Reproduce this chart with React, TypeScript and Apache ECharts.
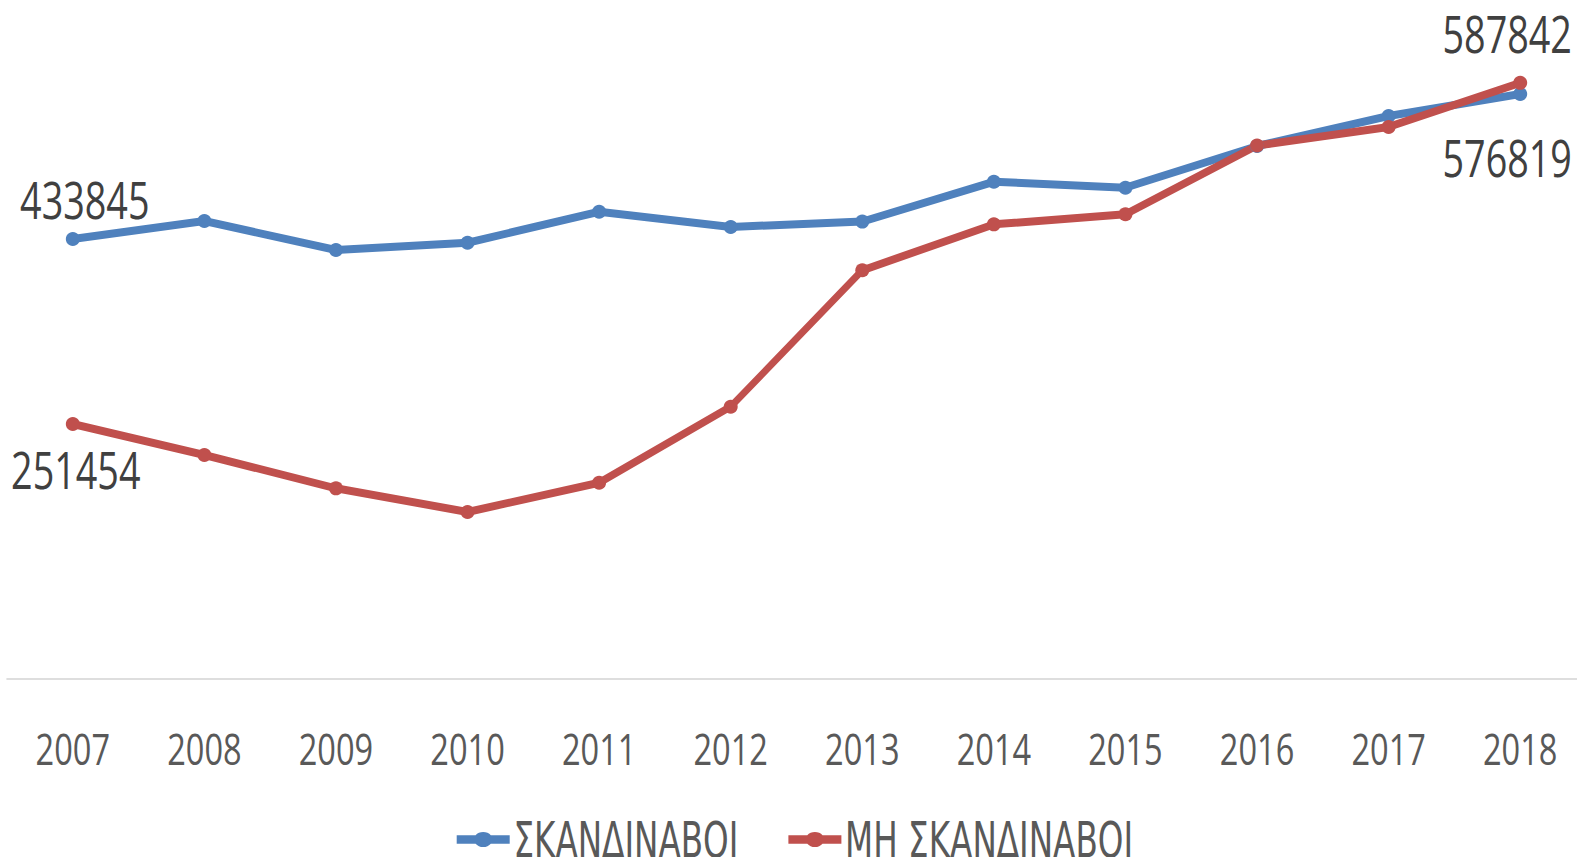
import React, { useEffect, useRef } from "react";
import * as echarts from "echarts";

const years = ["2007", "2008", "2009", "2010", "2011", "2012", "2013", "2014", "2015", "2016", "2017", "2018"];
const scandinavians = [433845, 451600, 423000, 430200, 460700, 445700, 451000, 490300, 484400, 525500, 555100, 576819];
const nonScandinavians = [251454, 220900, 188000, 164700, 193500, 268500, 403000, 448300, 458200, 526000, 544300, 587842];
const seriesNames = ["ΣΚΑΝΔΙΝΑΒΟΙ", "ΜΗ ΣΚΑΝΔΙΝΑΒΟΙ"];

const FONT = '"Open Sans", "DejaVu Sans Condensed", sans-serif';
const LEGEND_FONT = '"DejaVu Sans Condensed", "Open Sans", sans-serif';
// horizontal squeeze applied to the whole chart (the reference's text is tall and narrow)
const SX = 0.74;
const W = 1577;
const H = 857;

const LEGEND_ICON =
  "path://M0,3 L14.26,3 A7,7 0 0 1 25.74,3 L40,3 L40,11 L25.74,11 A7,7 0 0 1 14.26,11 L0,11 Z";

function withEndLabels(values: number[], first: [number, number], last: [number, number]) {
  return values.map((v, i) => {
    if (i === 0 || i === values.length - 1) {
      const off = i === 0 ? first : last;
      return {
        value: v,
        label: {
          show: true,
          position: "inside",
          offset: [off[0] / SX, off[1]],
          formatter: String(v),
          color: "#404040",
          fontSize: 51,
          fontFamily: FONT,
          align: "center",
          verticalAlign: "middle",
        },
      };
    }
    return { value: v };
  });
}

export default function App() {
  const ref = useRef<HTMLDivElement>(null);
  useEffect(() => {
    if (!ref.current) return;
    const chart = echarts.init(ref.current, undefined, { renderer: "svg" });
    chart.setOption({
      animation: false,
      backgroundColor: "#ffffff",
      grid: { left: 7 / SX, top: 0, width: 1579 / SX, height: 679, containLabel: false },
      xAxis: {
        type: "category",
        data: years,
        boundaryGap: true,
        axisLine: { show: true, lineStyle: { color: "#dedede", width: 2 } },
        axisTick: { show: false },
        axisLabel: {
          color: "#595959",
          fontSize: 44,
          fontFamily: FONT,
          margin: 69,
          verticalAlign: "middle",
          lineHeight: 44,
        },
      },
      yAxis: {
        type: "value",
        min: 0,
        max: 669500,
        show: false,
        splitLine: { show: false },
      },
      legend: {
        left: 453 / SX,
        top: 810,
        icon: LEGEND_ICON,
        symbolKeepAspect: false,
        itemWidth: 53 / SX,
        itemHeight: 15,
        itemGap: 50 / SX,
        textStyle: {
          color: "#595959",
          fontSize: 49,
          fontFamily: LEGEND_FONT,
          lineHeight: 40,
        },
        data: seriesNames,
      },
      series: [
        {
          name: seriesNames[0],
          type: "line",
          data: withEndLabels(scandinavians, [12, -40], [-13, 63]),
          color: "#4F81BD",
          lineStyle: { width: 8, color: "#4F81BD" },
          symbol: "circle",
          symbolSize: [14 / SX, 14],
          itemStyle: { color: "#4F81BD" },
        },
        {
          name: seriesNames[1],
          type: "line",
          data: withEndLabels(nonScandinavians, [3, 45], [-13, -50]),
          color: "#C0504D",
          lineStyle: { width: 8, color: "#C0504D" },
          symbol: "circle",
          symbolSize: [14 / SX, 14],
          itemStyle: { color: "#C0504D" },
        },
      ],
    });
    return () => chart.dispose();
  }, []);
  return (
    <div style={{ position: "fixed", left: 0, top: 0, width: W, height: H, overflow: "hidden", background: "#fff" }}>
      <div
        ref={ref}
        style={{
          width: Math.ceil(1600 / SX),
          height: H,
          transform: `scaleX(${SX})`,
          transformOrigin: "0 0",
        }}
      />
    </div>
  );
}
